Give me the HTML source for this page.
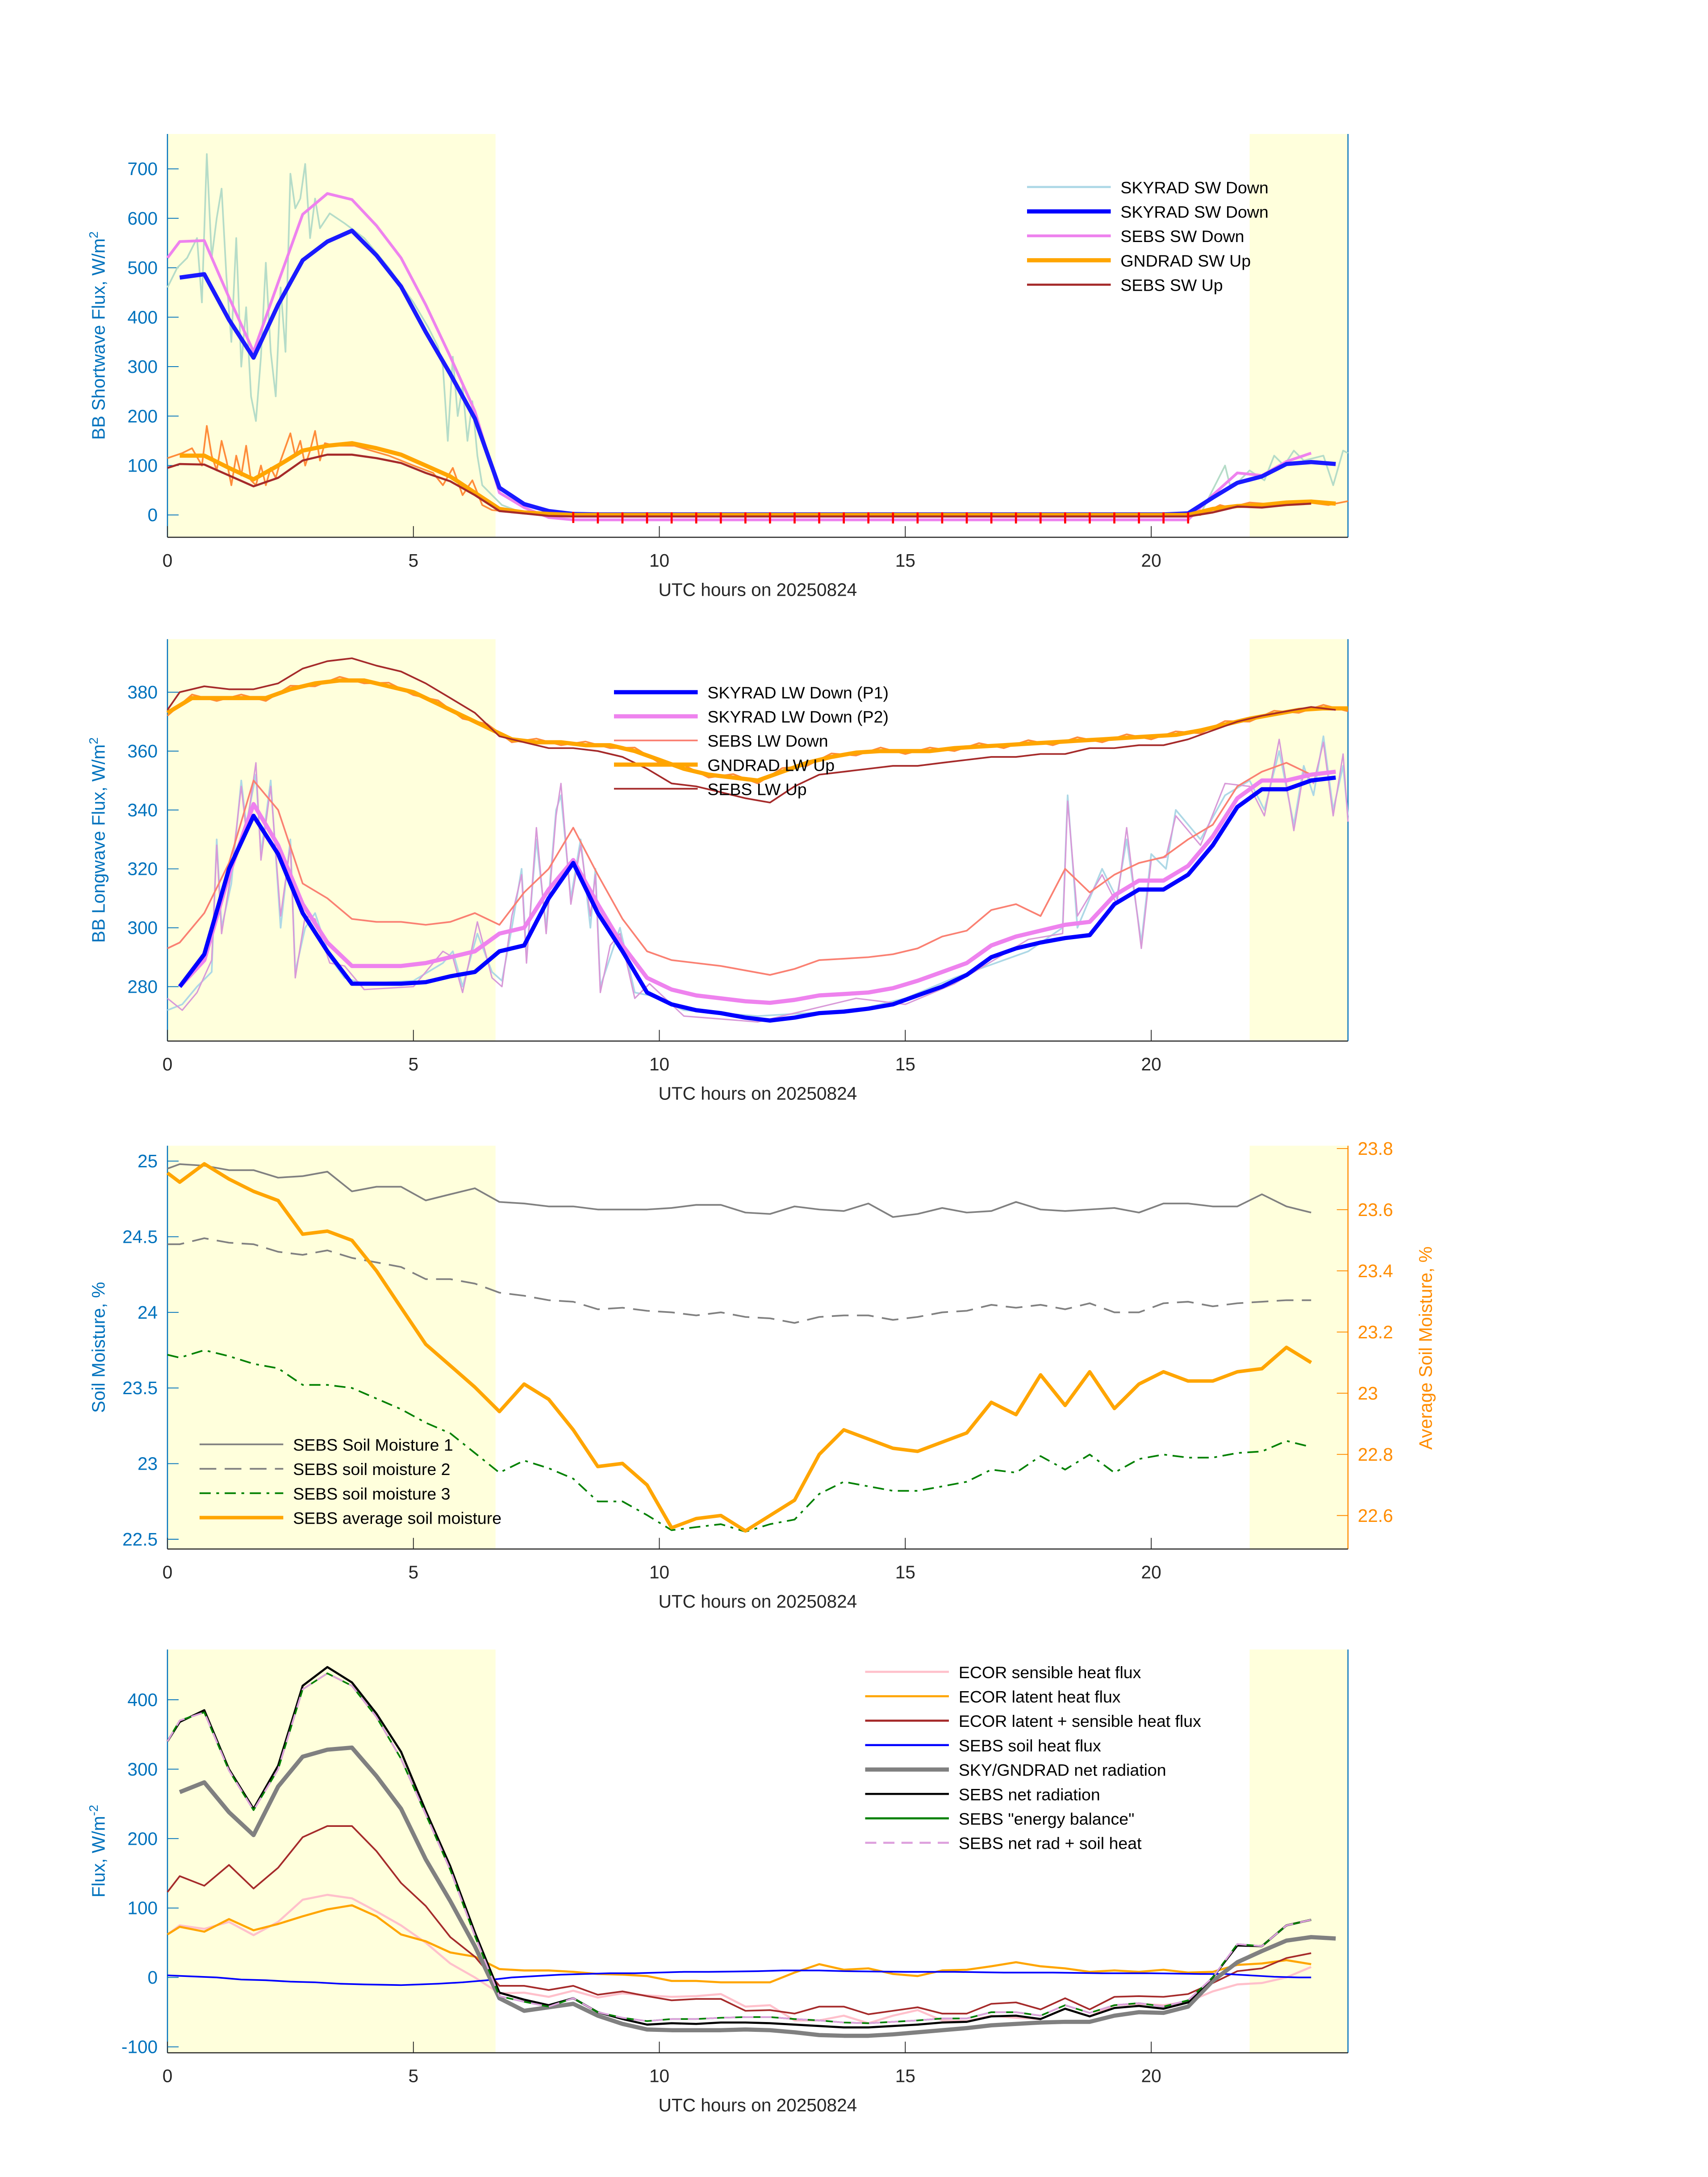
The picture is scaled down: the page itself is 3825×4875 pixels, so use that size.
<!DOCTYPE html>
<html><head><meta charset="utf-8"><style>
html,body{margin:0;padding:0;background:#fff;}
svg{display:block;font-family:"Liberation Sans","DejaVu Sans",sans-serif;}
</style></head><body>
<svg id="chart" xmlns="http://www.w3.org/2000/svg" width="3825" height="4875" viewBox="0 0 1224 1560"></svg>
<script>
// ---------- data ----------
const hrs = [0.25,0.75,1.25,1.75,2.25,2.75,3.25,3.75,4.25,4.75,5.25,5.75,6.25,6.75,7.25,7.75,8.25,8.75,9.25,9.75,10.25,10.75,11.25,11.75,12.25,12.75,13.25,13.75,14.25,14.75,15.25,15.75,16.25,16.75,17.25,17.75,18.25,18.75,19.25,19.75,20.25,20.75,21.25,21.75,22.25,22.75,23.25,23.75];
const hrs47 = hrs.slice(0,47);
// panel 1
const swDownSky = [480,487,395,318,425,515,553,575,525,462,370,285,195,55,22,8,2,1,1,1,1,1,1,1,1,1,1,1,1,1,1,1,1,1,1,1,1,1,1,1,1,3,35,65,78,103,107,103];
const swDownSebs = [553,555,440,330,470,608,650,638,585,520,425,320,210,45,15,-5,-10,-10,-10,-10,-10,-10,-10,-10,-10,-10,-10,-10,-10,-10,-10,-10,-10,-10,-10,-10,-10,-10,-10,-10,-10,-10,40,85,80,108,125];
const swDownRawH = [0,0.2,0.4,0.6,0.7,0.8,0.9,1.0,1.1,1.2,1.3,1.4,1.5,1.6,1.7,1.8,1.9,2.0,2.1,2.2,2.3,2.4,2.5,2.6,2.7,2.8,2.9,3.0,3.1,3.3,3.6,4.0,4.5,5.0,5.3,5.5,5.6,5.7,5.8,5.9,6.0,6.1,6.2,6.3,6.4,6.6,6.8,7.2,8,21,21.4,21.5,21.6,21.8,22,22.3,22.5,22.7,22.9,23.1,23.3,23.5,23.7,23.9,24];
const swDownRaw = [460,500,520,560,430,730,520,600,660,480,350,560,300,420,240,190,320,510,330,240,460,330,690,620,640,710,560,640,580,610,590,560,500,430,380,340,300,150,320,200,260,150,230,120,60,40,20,5,0,2,80,100,60,70,90,70,120,100,130,110,115,120,60,130,125];
const swUpGnd = [120,120,95,72,100,130,140,145,135,122,100,78,45,12,5,2,0,0,0,0,0,0,0,0,0,0,0,0,0,0,0,0,0,0,0,0,0,0,0,0,0,0,12,18,20,25,27,23];
const swUpSebs = [103,102,80,58,75,110,122,122,115,105,85,68,40,8,3,-2,-3,-3,-3,-3,-3,-3,-3,-3,-3,-3,-3,-3,-3,-3,-3,-3,-3,-3,-3,-3,-3,-3,-3,-3,-3,-3,5,17,15,20,23];
const swUpRawH = [0,0.3,0.5,0.7,0.8,0.9,1.0,1.1,1.2,1.3,1.4,1.5,1.6,1.7,1.8,1.9,2.0,2.1,2.2,2.3,2.5,2.6,2.7,2.8,2.9,3.0,3.1,3.2,3.4,3.8,4.5,5.0,5.4,5.6,5.8,6.0,6.2,6.4,6.6,6.8,7.2,21,21.4,21.6,22,22.4,22.8,23.2,23.6,24];
const swUpRaw = [115,125,135,100,180,120,90,150,110,60,120,80,140,70,60,100,60,95,75,110,165,120,150,100,130,170,110,145,140,140,120,100,85,60,95,40,70,20,10,8,3,0,20,15,25,22,28,25,20,28];
const nightH = [8.25,8.75,9.25,9.75,10.25,10.75,11.25,11.75,12.25,12.75,13.25,13.75,14.25,14.75,15.25,15.75,16.25,16.75,17.25,17.75,18.25,18.75,19.25,19.75,20.25,20.75];
const nightV = [-5,-6,-6,-6,-6,-6,-6,-6,-6,-6,-6,-6,-6,-6,-6,-6,-6,-6,-6,-6,-6,-6,-6,-6,-6,-6];
// panel 2
const lwP1 = [280,291,320,338,325,305,292,281,281,281,281.5,283.5,285,292,294,310,322,305,292,278,274,272,271,269.5,268.5,269.5,271,271.5,272.5,274,277,280,284,290,293,295,296.5,297.5,308,313,313,318,328,341,347,347,350,351];
const lwP2 = [280,289,318,342,328,308,295,287,287,287,288,290,292,298,300,313,323,308,294,283,279,277,276,275,274.5,275.5,277,277.5,278,279.5,282,285,288,294,297,299,301,302,311,316,316,321,331,344,350,350,352,353];
const lwRawH = [0,0.3,0.6,0.9,1.0,1.1,1.3,1.5,1.6,1.8,1.9,2.1,2.3,2.5,2.6,2.8,3.0,3.3,3.6,4.0,5.0,5.6,5.8,6.0,6.3,6.6,6.8,7.0,7.2,7.3,7.5,7.7,7.9,8.0,8.2,8.4,8.6,8.7,8.8,9.0,9.2,9.5,9.8,10.5,12,14,15,16,17.5,18.2,18.3,18.5,19,19.3,19.5,19.8,20,20.3,20.5,21,21.5,22,22.3,22.6,22.9,23.1,23.3,23.5,23.7,23.9,24];
const lwRaw = [272,274,280,285,330,300,315,350,335,352,325,350,300,330,285,300,305,290,283,281,282,288,292,280,298,285,282,300,320,290,330,300,340,345,310,330,300,320,280,290,300,278,277,272,270,272,276,283,292,300,345,300,320,310,330,295,325,320,340,330,345,350,340,360,335,355,345,365,340,355,338];
const lwDownSebs = [295,305,322,350,340,315,310,303,302,302,301,302,305,301,312,320,334,318,303,292,289,288,287,285.5,284,286,289,289.5,290,291,293,297,299,306,308,304,320,312,318,322,324,330,335,348,353,356,352,353];
const lwUpGndH = [0,0.5,1,1.5,2,2.5,3,3.5,4,4.5,5,5.5,6,6.5,7,7.5,8,8.5,9,9.5,10,10.5,11,11.5,12,12.5,13,13.5,14,14.5,15,15.5,16,16.5,17,17.5,18,18.5,19,19.5,20,20.5,21,21.5,22,22.5,23,23.5,24];
const lwUpGnd = [373,378,378,378,378,381,383,384,384,382,380,376,372,368,364,363,363,362,362,360,357,354,352,351,350,353,356,358,359.5,360,360,360,361,361.5,362,362.5,363,363.5,364,364.5,365,365.5,367,369,371,372.5,374,374.5,374.5];
const lwUpSebs = [380,382,381,381,383,388,390.5,391.5,389,387,383,378,373,365,363,361,361,360,358,354,349,348,346,344,342.5,348,352,353,354,355,355,356,357,358,358,359,359,361,361,362,362,364,367,370,372,373.5,375,374];
// panel 3
const sm1 = [24.98,24.97,24.94,24.94,24.89,24.9,24.93,24.8,24.83,24.83,24.74,24.78,24.82,24.73,24.72,24.7,24.7,24.68,24.68,24.68,24.69,24.71,24.71,24.66,24.65,24.7,24.68,24.67,24.72,24.63,24.65,24.69,24.66,24.67,24.73,24.68,24.67,24.68,24.69,24.66,24.72,24.72,24.7,24.7,24.78,24.7,24.66];
const sm2 = [24.45,24.49,24.46,24.45,24.4,24.38,24.41,24.36,24.33,24.3,24.22,24.22,24.19,24.13,24.11,24.08,24.07,24.02,24.03,24.01,24.0,23.98,24.0,23.97,23.96,23.93,23.97,23.98,23.98,23.95,23.97,24.0,24.01,24.05,24.03,24.05,24.02,24.06,24.0,24.0,24.06,24.07,24.04,24.06,24.07,24.08,24.08];
const sm3 = [23.7,23.75,23.71,23.66,23.63,23.52,23.52,23.5,23.43,23.36,23.27,23.2,23.07,22.94,23.02,22.97,22.9,22.75,22.75,22.66,22.56,22.58,22.6,22.55,22.6,22.63,22.8,22.88,22.85,22.82,22.82,22.85,22.88,22.96,22.94,23.05,22.96,23.06,22.94,23.03,23.06,23.04,23.04,23.07,23.08,23.15,23.11];
const smAvg = [23.69,23.75,23.7,23.66,23.63,23.52,23.53,23.5,23.4,23.28,23.16,23.09,23.02,22.94,23.03,22.98,22.88,22.76,22.77,22.7,22.56,22.59,22.6,22.55,22.6,22.65,22.8,22.88,22.85,22.82,22.81,22.84,22.87,22.97,22.93,23.06,22.96,23.07,22.95,23.03,23.07,23.04,23.04,23.07,23.08,23.15,23.1];
// panel 4
const netSebs = [368,385,300,243,305,420,447,425,380,325,240,160,65,-22,-32,-40,-30,-50,-60,-68,-66,-67,-65,-65,-66,-68,-70,-72,-72,-70,-68,-65,-64,-56,-55,-60,-45,-56,-44,-41,-45,-36,0,46,45,75,83];
const energyBal = [370,382,298,241,300,415,438,420,375,315,235,155,60,-27,-35,-42,-30,-50,-58,-63,-60,-60,-58,-57,-57,-60,-62,-65,-66,-64,-62,-59,-59,-50,-50,-55,-40,-51,-40,-37,-42,-33,0,48,45,75,83];
const netSky = [267,281,238,205,275,318,328,331,290,243,170,110,45,-30,-48,-43,-38,-55,-67,-75,-76,-76,-76,-75,-76,-79,-83,-84,-84,-82,-79,-76,-73,-69,-67,-65,-64,-64,-55,-50,-51,-42,-5,22,38,53,58,56];
const latSens = [146,132,162,128,158,202,218,218,182,136,103,58,30,-12,-12,-18,-12,-25,-20,-27,-33,-31,-31,-48,-47,-52,-42,-42,-53,-48,-43,-52,-52,-38,-36,-46,-30,-46,-28,-27,-28,-24,-8,9,13,28,35];
const sensible = [75,70,80,61,80,112,119,114,95,75,50,20,0,-23,-22,-28,-19,-29,-23,-26,-28,-27,-24,-42,-40,-62,-62,-55,-66,-55,-47,-62,-63,-55,-58,-60,-45,-56,-40,-38,-40,-35,-20,-10,-8,0,15];
const latent = [73,66,84,68,77,88,98,104,88,62,52,36,30,12,10,10,8,5,4,2,-5,-5,-7,-7,-7,7,19,11,13,5,2,10,11,16,22,16,13,8,10,8,11,7,8,18,20,25,19];
const soilH = [0,1,1.5,2,2.5,3,3.5,4,4.75,5.5,6,6.5,7,7.5,8,8.5,9,9.5,10,10.5,11,12,12.5,13.25,13.75,15,16,17,18,19,20,21,21.5,22,22.5,23,23.25];
const soilV = [3,0,-3,-4,-6,-7,-9,-10,-11,-9,-7,-4,0,2,4,5,6,6,7,8,8,9,10,10,9,8,8,7,7,6,6,5,5,3,1,0,0];
const xTicks = [0,5,10,15,20];
const yTicks1 = [0,100,200,300,400,500,600,700];
const yTicks2 = [280,300,320,340,360,380];
const yTicks3 = [22.5,23,23.5,24,24.5,25];
const yTicks3r = [22.6,22.8,23,23.2,23.4,23.6,23.8];
const yTicks4 = [-100,0,100,200,300,400];

// ---------- drawing ----------
const NS = "http://www.w3.org/2000/svg";
const svg = document.getElementById('chart');
function mk(tag, attrs, parent){
  const e = document.createElementNS(NS, tag);
  for (const k in attrs) e.setAttribute(k, attrs[k]);
  (parent||svg).appendChild(e);
  return e;
}
const X0 = 120, X1 = 966;
const xs = h => X0 + h*(X1-X0)/24;
function yScale(v0, p0, v1, p1){ return v => p0 + (v - v0)*(p1-p0)/(v1-v0); }
function poly(hh, vv, ys, style, name, g){
  const pts = hh.map((h,i)=>xs(h).toFixed(1)+','+ys(vv[i]).toFixed(1)).join(' ');
  const e = mk('polyline', Object.assign({points:pts, fill:'none','stroke-linejoin':'round'}, style), g);
  
  
  return e;
}
function panel(top, bot, ys, ticks, ylabel, name, right){
  const g = mk('g', {});
  
  
  const s1 = mk('rect', {x:X0, y:top, width:xs(6.67)-X0, height:bot-top, fill:'#ffffdc'}, g);
  
  
  const s2 = mk('rect', {x:xs(22), y:top, width:X1-xs(22), height:bot-top, fill:'#ffffdc'}, g);
  
  
  const ax = mk('line', {x1:X0, y1:top, x2:X0, y2:bot, stroke:'#0072BD', 'stroke-width':0.8}, g);
  
  
  const ax2 = mk('line', {x1:X1, y1:top, x2:X1, y2:bot, stroke: right ? '#FF8C00' : '#0072BD', 'stroke-width':0.8}, g);
  
  
  const bx = mk('line', {x1:X0, y1:bot, x2:X1, y2:bot, stroke:'#262626', 'stroke-width':0.8}, g);
  
  
  xTicks.forEach(t=>{
    const tl = mk('line', {x1:xs(t), y1:bot, x2:xs(t), y2:bot-8, stroke:'#262626','stroke-width':0.6}, g);
    
    
    const tx = mk('text', {x:xs(t), y:bot+21, 'font-size':13, 'text-anchor':'middle', fill:'#262626'}, g);
    tx.textContent = t;
    
    
  });
  const xl = mk('text', {x:543, y:bot+42, 'font-size':13, 'text-anchor':'middle', fill:'#262626'}, g);
  xl.textContent = 'UTC hours on 20250824';
  
  
  ticks.forEach(t=>{
    const tl = mk('line', {x1:X0, y1:ys(t), x2:X0+8, y2:ys(t), stroke:'#0072BD','stroke-width':0.6}, g);
    
    
    const tx = mk('text', {x:X0-7, y:ys(t)+4.5, 'font-size':13, 'text-anchor':'end', fill:'#0072BD'}, g);
    tx.textContent = t;
    
    
  });
  const yl = mk('text', {x:0, y:0, 'font-size':13, 'text-anchor':'middle', fill:'#0072BD', transform:`translate(${X0-45},${(top+bot)/2}) rotate(-90)`}, g);
  yl.innerHTML = ylabel;
  
  
  return g;
}
function legend(x, y0, dy, items, g){
  items.forEach((it,i)=>{
    const y = y0 + i*dy;
    const l = mk('line', Object.assign({x1:x, y1:y, x2:x+60, y2:y}, it.style), g);
    
    
    const t = mk('text', {x:x+67, y:y+4.5, 'font-size':12, fill:'#000'}, g);
    t.textContent = it.label;
    
    
  });
}

// Panel 1
const y1 = yScale(0, 369, 700, 121);
const g1 = panel(96, 385, y1, yTicks1, 'BB Shortwave Flux, W/m<tspan dy="-5" font-size="9">2</tspan>', 'shortwave-panel');
poly(swUpRawH, swUpRaw, y1, {stroke:'#ff8c3a','stroke-width':1.2}, 'gndrad-sw-up-raw', g1);
poly(swDownRawH, swDownRaw, y1, {stroke:'#b5dcc8','stroke-width':1.2}, 'skyrad-sw-down-raw', g1);
poly(hrs, swDownSebs.concat([]).slice(0,47).length ? hrs47 : hrs, y1, {}, 'unused', g1).remove();
poly([0].concat(hrs47), [520].concat(swDownSebs), y1, {stroke:'#ee82ee','stroke-width':2}, 'sebs-sw-down', g1);
poly(hrs, swDownSky, y1, {stroke:'#1a1aff','stroke-width':3}, 'skyrad-sw-down', g1);
poly(hrs, swUpGnd, y1, {stroke:'#ffa500','stroke-width':3}, 'gndrad-sw-up', g1);
poly([0].concat(hrs47), [95].concat(swUpSebs), y1, {stroke:'#a52a2a','stroke-width':1.5}, 'sebs-sw-up', g1);
nightH.forEach((h,i)=>{
  const m = mk('line', {x1:xs(h), y1:y1(nightV[i])-4, x2:xs(h), y2:y1(nightV[i])+4, stroke:'#ff0000','stroke-width':1.5}, g1);
  
  
});
legend(736, 134, 17.5, [
  {label:'SKYRAD SW Down', style:{stroke:'#add8e6','stroke-width':1.5}},
  {label:'SKYRAD SW Down', style:{stroke:'#0000ff','stroke-width':3}},
  {label:'SEBS SW Down', style:{stroke:'#ee82ee','stroke-width':2}},
  {label:'GNDRAD SW Up', style:{stroke:'#ffa500','stroke-width':3}},
  {label:'SEBS SW Up', style:{stroke:'#a52a2a','stroke-width':1.5}}], g1);

// Panel 2
const y2 = yScale(280, 707, 380, 496);
const g2 = panel(458, 746, y2, yTicks2, 'BB Longwave Flux, W/m<tspan dy="-5" font-size="9">2</tspan>', 'longwave-panel');
poly(lwRawH, lwRaw, y2, {stroke:'#add8e6','stroke-width':1.2}, 'skyrad-lw-down-raw', g2);
poly(lwRawH, lwRaw.map((v,i)=>v+ (i%3===0?4:-2)), y2, {stroke:'#d899d8','stroke-width':1}, 'skyrad-lw-down-p2-raw', g2);
poly([0].concat(hrs), [293].concat(lwDownSebs), y2, {stroke:'#fa8072','stroke-width':1.2}, 'sebs-lw-down', g2);
poly(hrs, lwP2, y2, {stroke:'#ee82ee','stroke-width':3}, 'skyrad-lw-down-p2', g2);
poly(hrs, lwP1, y2, {stroke:'#0000ff','stroke-width':3}, 'skyrad-lw-down-p1', g2);
poly(lwUpGndH, lwUpGnd.map((v,i)=>v+(i%2?1.2:-1)), y2, {stroke:'#ff8c3a','stroke-width':1.2}, 'gndrad-lw-up-raw', g2);
poly(lwUpGndH, lwUpGnd, y2, {stroke:'#ffa500','stroke-width':3}, 'gndrad-lw-up', g2);
poly([0].concat(hrs), [374].concat(lwUpSebs), y2, {stroke:'#a52a2a','stroke-width':1.2}, 'sebs-lw-up', g2);
legend(440, 496, 17.3, [
  {label:'SKYRAD LW Down (P1)', style:{stroke:'#0000ff','stroke-width':3}},
  {label:'SKYRAD LW Down (P2)', style:{stroke:'#ee82ee','stroke-width':3}},
  {label:'SEBS LW Down', style:{stroke:'#fa8072','stroke-width':1.2}},
  {label:'GNDRAD LW Up', style:{stroke:'#ffa500','stroke-width':3}},
  {label:'SEBS LW Up', style:{stroke:'#a52a2a','stroke-width':1.2}}], g2);

// Panel 3
const y3 = yScale(25, 832, 22.5, 1103);
const y3r = yScale(23.8, 823, 22.6, 1086);
const g3 = panel(821, 1110, y3, yTicks3, 'Soil Moisture, %', 'soil-moisture-panel', true);
yTicks3r.forEach(t=>{
  const tl = mk('line', {x1:X1, y1:y3r(t), x2:X1-8, y2:y3r(t), stroke:'#FF8C00','stroke-width':0.6}, g3);
  
  
  const tx = mk('text', {x:X1+7, y:y3r(t)+4.5, 'font-size':13, fill:'#FF8C00'}, g3);
  tx.textContent = t.toFixed(1).replace('23.0','23');
  
  
});
const ryl = mk('text', {x:0, y:0, 'font-size':13, 'text-anchor':'middle', fill:'#FF8C00', transform:`translate(1026,966) rotate(-90)`}, g3);
ryl.textContent = 'Average Soil Moisture, %';


poly([0].concat(hrs47), [24.95].concat(sm1), y3, {stroke:'#808080','stroke-width':1.2}, 'sebs-soil-moisture-1', g3);
poly([0].concat(hrs47), [24.45].concat(sm2), y3, {stroke:'#808080','stroke-width':1.2,'stroke-dasharray':'12 6'}, 'sebs-soil-moisture-2', g3);
poly([0].concat(hrs47), [23.72].concat(sm3), y3, {stroke:'#008000','stroke-width':1.2,'stroke-dasharray':'8 4 2 4'}, 'sebs-soil-moisture-3', g3);
poly([0].concat(hrs47), [23.72].concat(smAvg), y3r, {stroke:'#ffa500','stroke-width':2.5}, 'sebs-average-soil-moisture', g3);
legend(143, 1035, 17.5, [
  {label:'SEBS Soil Moisture 1', style:{stroke:'#808080','stroke-width':1.2}},
  {label:'SEBS soil moisture 2', style:{stroke:'#808080','stroke-width':1.2,'stroke-dasharray':'12 6'}},
  {label:'SEBS soil moisture 3', style:{stroke:'#008000','stroke-width':1.2,'stroke-dasharray':'8 4 2 4'}},
  {label:'SEBS average soil moisture', style:{stroke:'#ffa500','stroke-width':2.5}}], g3);

// Panel 4
const y4 = yScale(0, 1417, 400, 1218);
const g4 = panel(1182, 1471, y4, yTicks4, 'Flux, W/m<tspan dy="-5" font-size="9">-2</tspan>', 'energy-flux-panel');
poly([0].concat(hrs47), [62].concat(sensible), y4, {stroke:'#ffc0cb','stroke-width':1.5}, 'ecor-sensible-heat-flux', g4);
poly([0].concat(hrs47), [62].concat(latent), y4, {stroke:'#ffa500','stroke-width':1.5}, 'ecor-latent-heat-flux', g4);
poly([0].concat(hrs47), [123].concat(latSens), y4, {stroke:'#a52a2a','stroke-width':1.2}, 'ecor-latent-plus-sensible', g4);
poly(soilH, soilV, y4, {stroke:'#0000ff','stroke-width':1.2}, 'sebs-soil-heat-flux', g4);
poly(hrs, netSky, y4, {stroke:'#808080','stroke-width':3}, 'skygndrad-net-radiation', g4);
poly([0].concat(hrs47), [340].concat(netSebs), y4, {stroke:'#000000','stroke-width':1.5}, 'sebs-net-radiation', g4);
poly([0].concat(hrs47), [340].concat(energyBal), y4, {stroke:'#008000','stroke-width':1.2}, 'sebs-energy-balance', g4);
poly([0].concat(hrs47), [340].concat(energyBal), y4, {stroke:'#dda0dd','stroke-width':1.2,'stroke-dasharray':'8 5'}, 'sebs-net-rad-plus-soil-heat', g4);
legend(620, 1198, 17.5, [
  {label:'ECOR sensible heat flux', style:{stroke:'#ffc0cb','stroke-width':1.5}},
  {label:'ECOR latent heat flux', style:{stroke:'#ffa500','stroke-width':1.5}},
  {label:'ECOR latent + sensible heat flux', style:{stroke:'#a52a2a','stroke-width':1.5}},
  {label:'SEBS soil heat flux', style:{stroke:'#0000ff','stroke-width':1.5}},
  {label:'SKY/GNDRAD net radiation', style:{stroke:'#808080','stroke-width':3}},
  {label:'SEBS net radiation', style:{stroke:'#000000','stroke-width':1.5}},
  {label:'SEBS "energy balance"', style:{stroke:'#008000','stroke-width':1.5}},
  {label:'SEBS net rad + soil heat', style:{stroke:'#dda0dd','stroke-width':1.5,'stroke-dasharray':'8 5'}}], g4);
</script>
</body></html>
